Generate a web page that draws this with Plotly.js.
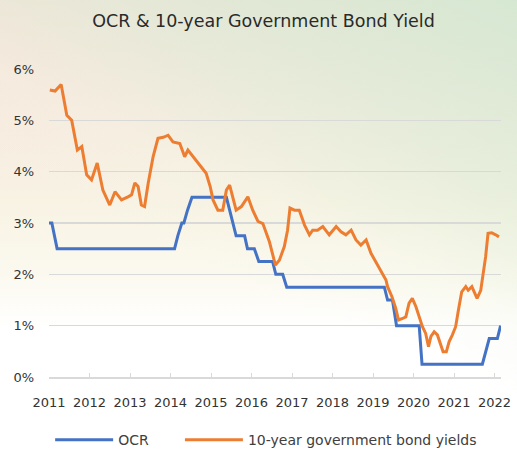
<!DOCTYPE html>
<html>
<head>
<meta charset="utf-8">
<script src="https://cdn.plot.ly/plotly-3.0.1.min.js"></script>
<style>
  html, body { margin: 0; padding: 0; }
  body {
    width: 517px; height: 457px; overflow: hidden;
    background:
      linear-gradient(205deg, rgba(212,232,210,0.95) 0%, rgba(222,237,216,0.6) 28%, rgba(240,246,228,0.25) 45%, rgba(255,255,255,0) 58%),
      linear-gradient(180deg, #f5e0d6 0%, #f7e9de 22%, #f8f3e4 45%, #fbf9ef 60%, #ffffff 72%, #ffffff 100%);
  }
  #chart { width: 517px; height: 457px; }
</style>
</head>
<body>
<div id="chart"></div>
<script>
// OCR (official cash rate), %, decimal-year dates
const ocrDates = [2011.00, 2011.07, 2011.20, 2014.10, 2014.18, 2014.28, 2014.33, 2014.42, 2014.53,
  2015.38, 2015.46, 2015.54, 2015.62, 2015.83, 2015.90, 2016.07, 2016.18, 2016.52, 2016.60, 2016.77,
  2016.87, 2019.28, 2019.36, 2019.48, 2019.58, 2020.14, 2020.21, 2021.70, 2021.78, 2021.87, 2022.07, 2022.15];
const ocrValues = [3.0, 3.0, 2.5, 2.5, 2.75, 3.0, 3.0, 3.25, 3.5,
  3.5, 3.25, 3.0, 2.75, 2.75, 2.5, 2.5, 2.25, 2.25, 2.0, 2.0,
  1.75, 1.75, 1.5, 1.5, 1.0, 1.0, 0.25, 0.25, 0.5, 0.75, 0.75, 1.0];

// 10-year government bond yields, %
const bondDates = [2011.02, 2011.15, 2011.30, 2011.44, 2011.56, 2011.70, 2011.81, 2011.93,
  2012.05, 2012.19, 2012.33, 2012.50, 2012.63, 2012.79, 2012.95,
  2013.04, 2013.12, 2013.20, 2013.28, 2013.36, 2013.45, 2013.57, 2013.69, 2013.82, 2013.94,
  2014.06, 2014.23, 2014.35, 2014.43, 2014.55, 2014.72, 2014.88, 2014.98,
  2015.05, 2015.17, 2015.29, 2015.38, 2015.46, 2015.54, 2015.62, 2015.75, 2015.91,
  2016.03, 2016.16, 2016.28, 2016.44, 2016.59, 2016.69, 2016.81, 2016.89, 2016.95,
  2017.06, 2017.18, 2017.31, 2017.43, 2017.51, 2017.63, 2017.76, 2017.92,
  2018.09, 2018.21, 2018.33, 2018.46, 2018.58, 2018.70, 2018.83, 2018.95,
  2019.07, 2019.19, 2019.32, 2019.36, 2019.47, 2019.56, 2019.63, 2019.73, 2019.81, 2019.89, 2019.97,
  2020.06, 2020.14, 2020.22, 2020.30, 2020.37, 2020.43, 2020.51, 2020.59, 2020.67, 2020.73, 2020.81, 2020.88, 2020.96,
  2021.04, 2021.11, 2021.19, 2021.29, 2021.35, 2021.44, 2021.52, 2021.57, 2021.66, 2021.71, 2021.78, 2021.84, 2021.93,
  2022.03, 2022.11];
const bondValues = [5.59, 5.57, 5.70, 5.10, 5.00, 4.42, 4.49, 3.94,
  3.84, 4.17, 3.64, 3.35, 3.61, 3.45, 3.51,
  3.55, 3.78, 3.71, 3.35, 3.32, 3.78, 4.29, 4.65, 4.67, 4.71,
  4.58, 4.55, 4.29, 4.42, 4.29, 4.13, 3.97, 3.71,
  3.45, 3.25, 3.25, 3.64, 3.74, 3.48, 3.25, 3.32, 3.51,
  3.25, 3.03, 2.99, 2.64, 2.18, 2.28, 2.54, 2.86, 3.29,
  3.25, 3.25, 2.96, 2.77, 2.86, 2.86, 2.93, 2.77,
  2.93, 2.83, 2.77, 2.86, 2.67, 2.57, 2.67, 2.41,
  2.25, 2.08, 1.89, 1.76, 1.56, 1.34, 1.11, 1.14, 1.17, 1.44, 1.53,
  1.37, 1.17, 0.98, 0.85, 0.59, 0.79, 0.88, 0.82, 0.62, 0.49, 0.49, 0.69, 0.82,
  0.98, 1.31, 1.66, 1.76, 1.69, 1.76, 1.60, 1.53, 1.69, 1.95, 2.34, 2.80, 2.81,
  2.77, 2.73];

const yearTicks = [2011, 2012, 2013, 2014, 2015, 2016, 2017, 2018, 2019, 2020, 2021, 2022];
const yearLabels = ["2011", "2012", "2013", "2014", "2015", "2016", "2017", "2018", "2019", "2020", "2021", "2022"];
const seriesNames = ["OCR", "10-year government bond yields"];

const FONT = "DejaVu Sans, sans-serif";

const traces = [
  { x: ocrDates, y: ocrValues, name: seriesNames[0], type: "scatter", mode: "lines",
    line: { color: "#4472C4", width: 3 }, legend: "legend" },
  { x: bondDates, y: bondValues, name: seriesNames[1], type: "scatter", mode: "lines",
    line: { color: "#ED7D31", width: 3 }, legend: "legend2" }
];

const legendBase = { orientation: "h", xanchor: "left", yref: "container", xref: "container",
  y: 0.037, yanchor: "middle", font: { family: FONT, size: 14, color: "#404040" },
  itemwidth: 58, bgcolor: "rgba(0,0,0,0)" };

const layout = {
  width: 517, height: 457,
  margin: { l: 49, r: 16, t: 69, b: 80 },
  paper_bgcolor: "rgba(0,0,0,0)",
  plot_bgcolor: "rgba(0,0,0,0)",
  font: { family: FONT, color: "#404040", size: 12 },
  title: { text: "OCR & 10-year Government Bond Yield", font: { family: FONT, size: 17.5, color: "#2a2a2a" },
           x: 0.5097, xanchor: "center", y: 0.955, yanchor: "middle", yref: "container" },
  showlegend: true,
  legend: Object.assign({}, legendBase, { x: 0.097 }),
  legend2: Object.assign({}, legendBase, { x: 0.348 }),
  xaxis: { type: "linear", range: [2011, 2022.16], tickvals: yearTicks, ticktext: yearLabels,
           showgrid: false, zeroline: false, showline: true, linecolor: "#d9d9d9", linewidth: 1.5,
           ticks: "inside", ticklen: 4, tickcolor: "#d9d9d9", tickfont: { size: 13, color: "#333333" },
           ticklabelstandoff: 13, automargin: false },
  yaxis: { range: [0, 6], dtick: 1, ticksuffix: "%", showgrid: true, gridcolor: "#d9d9d9", gridwidth: 1.5,
           zeroline: false, showline: false, tickfont: { size: 13, color: "#333333" }, ticklabelstandoff: 14,
           automargin: false }
};

Plotly.newPlot("chart", traces, layout, { displayModeBar: false, staticPlot: true });
</script>
</body>
</html>
